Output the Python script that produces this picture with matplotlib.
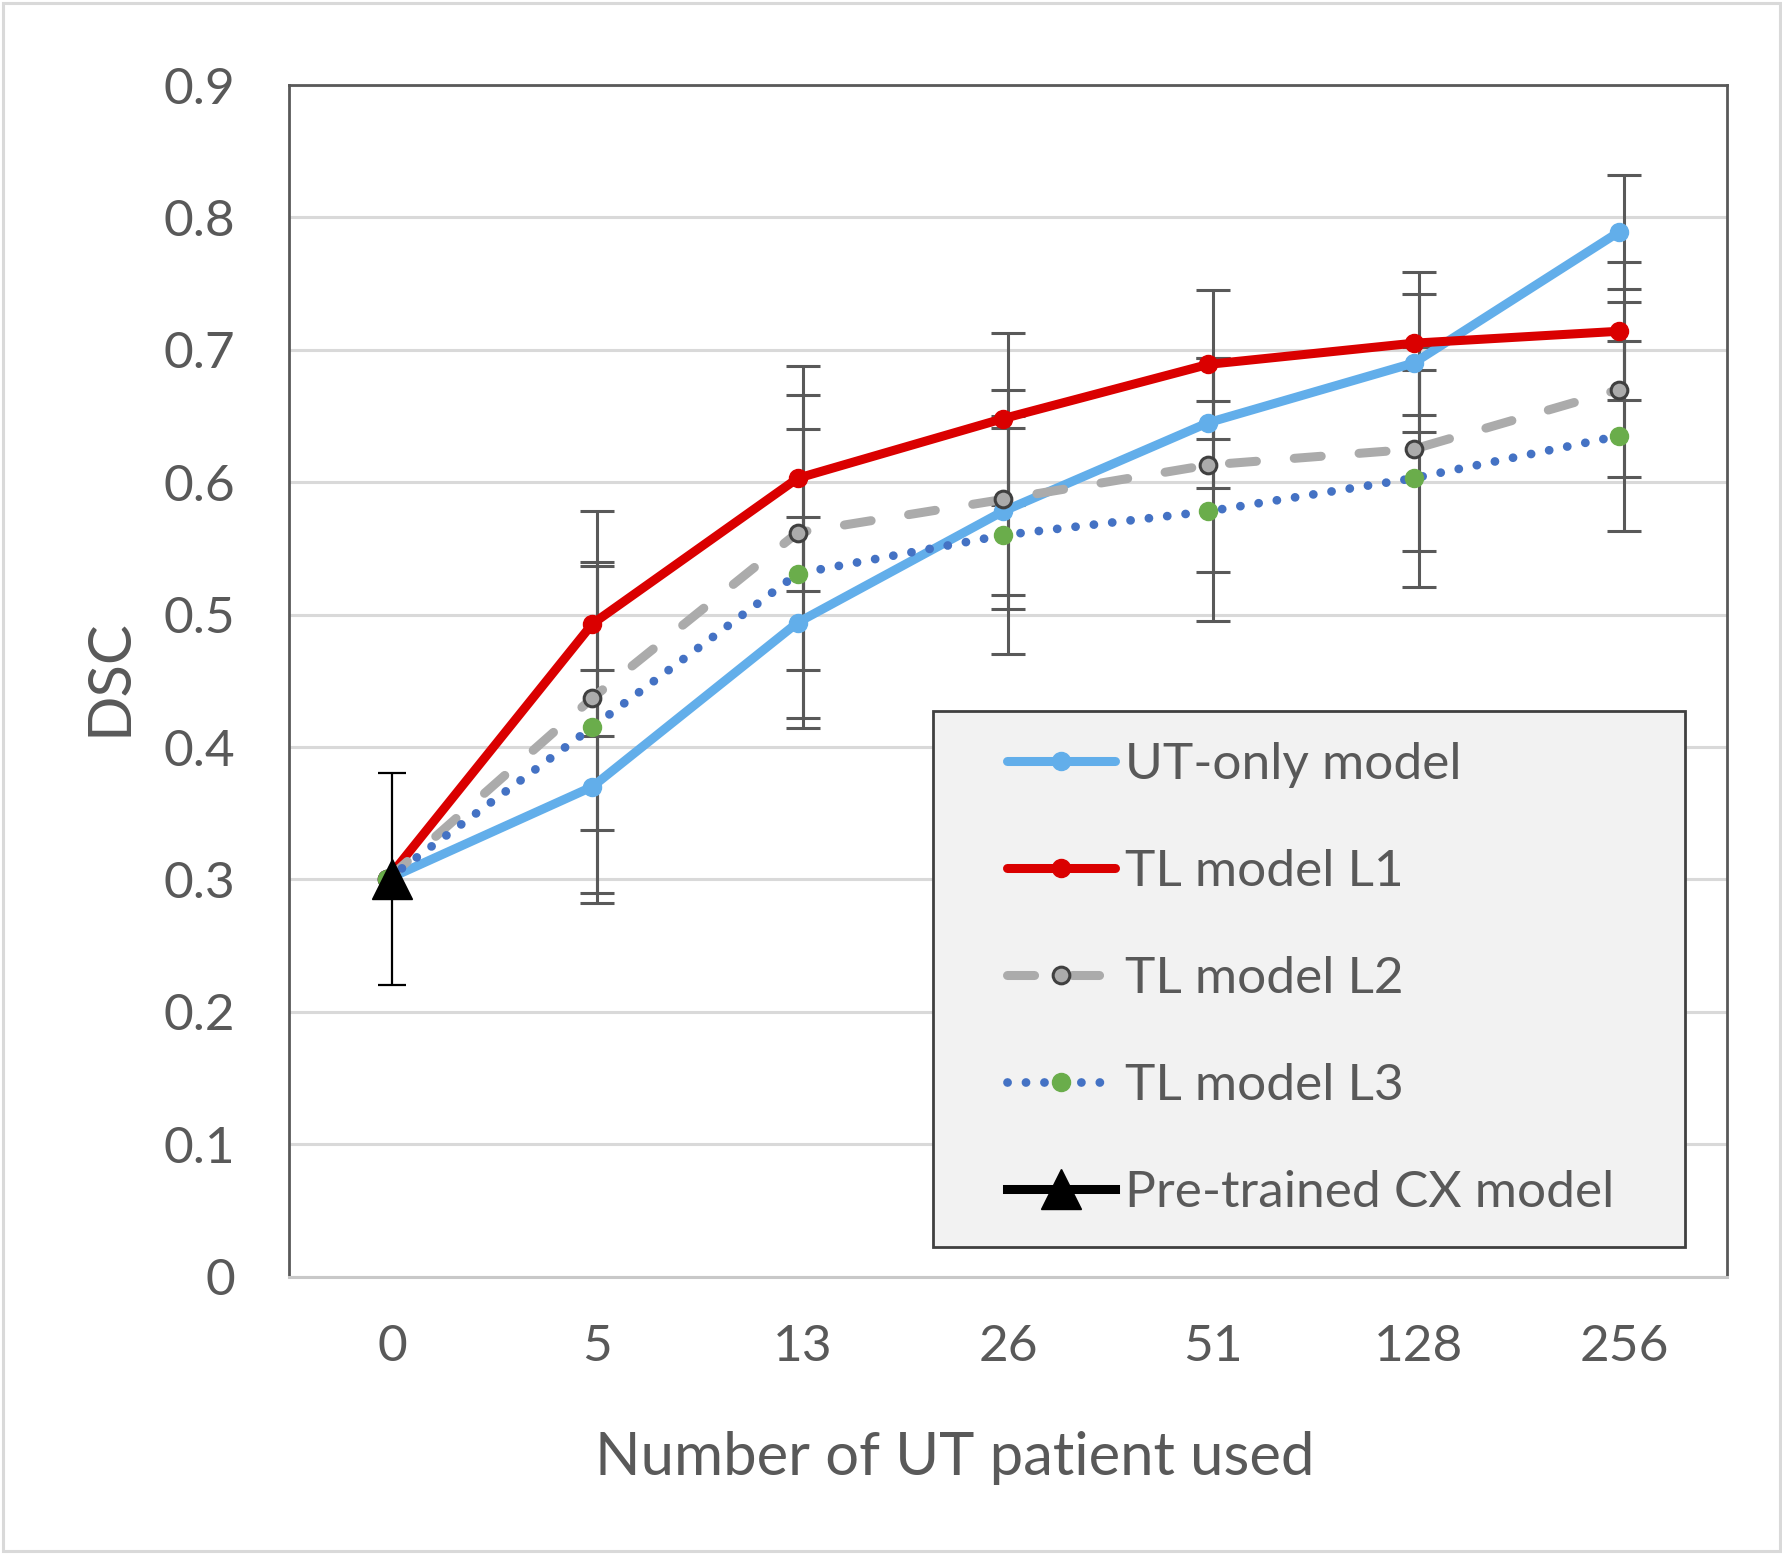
import matplotlib
matplotlib.use("Agg")
import matplotlib.pyplot as plt
import matplotlib.transforms as mtransforms
from matplotlib.patches import Rectangle

# Data
patients = ["0", "5", "13", "26", "51", "128", "256"]
ut_only = [0.300, 0.370, 0.494, 0.578, 0.645, 0.690, 0.789]
tl_l1 = [0.300, 0.493, 0.603, 0.648, 0.689, 0.705, 0.714]
tl_l2 = [0.300, 0.437, 0.562, 0.587, 0.613, 0.625, 0.670]
tl_l3 = [0.300, 0.415, 0.531, 0.560, 0.578, 0.603, 0.635]

# error bars (no bar at 0 patients for these series)
ut_only_err = [0.088, 0.080, 0.063, 0.049, 0.052, 0.043]
tl_l1_err = [0.085, 0.085, 0.065, 0.056, 0.054, 0.052]
tl_l2_err = [0.100, 0.104, 0.083, 0.081, 0.077, 0.066]
tl_l3_err = [0.125, 0.109, 0.090, 0.083, 0.082, 0.072]

pretrained = [0.300]
pretrained_err = [0.080]

y_ticks = [0, 0.1, 0.2, 0.3, 0.4, 0.5, 0.6, 0.7, 0.8, 0.9]
y_tick_labels = ["0", "0.1", "0.2", "0.3", "0.4", "0.5", "0.6", "0.7", "0.8", "0.9"]

text_color = "#595959"
grid_color = "#D9D9D9"
plt.rcParams["font.family"] = ["Lato", "DejaVu Sans"]

fig = plt.figure(figsize=(17.83, 15.54), dpi=100)
ax = fig.add_axes([0.1623, 0.1785, 0.8061, 0.7668])

x = list(range(len(patients)))
# Excel draws the series a few pixels left of the category centre
shift = mtransforms.offset_copy(ax.transData, fig=fig, x=-5, y=0, units="dots")

bar_kw = dict(fmt="none", ecolor="#595959", elinewidth=2.2, capsize=12, capthick=2.2, zorder=2)
for vals, errs in [(ut_only, ut_only_err), (tl_l1, tl_l1_err),
                   (tl_l2, tl_l2_err), (tl_l3, tl_l3_err)]:
    ax.errorbar(x[1:], vals[1:], yerr=errs, **bar_kw)

ax.errorbar(x[:1], pretrained, yerr=pretrained_err, fmt="none", ecolor="black",
            elinewidth=1.6, capsize=10, capthick=1.6, zorder=6)

h_ut, = ax.plot(x, ut_only, color="#62AEEA", lw=6.5, marker="o", ms=13,
                solid_capstyle="round", transform=shift, zorder=3, label="UT-only model")
h_l1, = ax.plot(x, tl_l1, color="#DA0000", lw=6.5, marker="o", ms=13,
                solid_capstyle="round", transform=shift, zorder=3, label="TL model L1")
h_l2, = ax.plot(x, tl_l2, color="#ABABAB", lw=6.5, marker="o", ms=12,
                mfc="#ABABAB", mec="#404040", mew=2.2,
                linestyle=(0, (3.0, 4.2)), dash_capstyle="round",
                transform=shift, zorder=3, label="TL model L2")
h_l3, = ax.plot(x, tl_l3, color="#4472C4", lw=6.3, marker="o", ms=13,
                mfc="#6AAD4B", mec="#6AAD4B",
                linestyle=(0, (0.01, 2.1)), dash_capstyle="round",
                transform=shift, zorder=3, label="TL model L3")
h_pre, = ax.plot(x[:1], pretrained, color="black", lw=6.5, marker="^", ms=29,
                 zorder=7, label="Pre-trained CX model")

ax.set_xlim(-0.5, 6.5)
ax.set_ylim(0, 0.9)
ax.set_xticks(x)
ax.set_xticklabels(patients)
ax.set_yticks(y_ticks)
ax.set_yticklabels(y_tick_labels)
ax.tick_params(axis="both", length=0, labelsize=37, colors=text_color)
ax.tick_params(axis="y", pad=39)
ax.tick_params(axis="x", pad=34)

ax.grid(axis="y", color=grid_color, lw=2.2, zorder=0)
ax.set_axisbelow(True)
for side in ["left", "top", "right"]:
    ax.spines[side].set_color(text_color)
    ax.spines[side].set_linewidth(2)
ax.spines["bottom"].set_color("#C8C8C8")
ax.spines["bottom"].set_linewidth(2.2)

fig.text(955 / 1783, 1 - 1458 / 1554, "Number of UT patient used",
         ha="center", va="center", fontsize=43, color=text_color)
fig.text(109 / 1783, 1 - 677 / 1554, "DSC", rotation=90,
         ha="center", va="center", fontsize=43, color=text_color)

# legend box drawn by hand, legend itself without frame
ax.add_patch(Rectangle((0.4478, 0.0249), 0.5232, 0.4498, transform=ax.transAxes,
                       facecolor="#F2F2F2", edgecolor="#404040", lw=2, zorder=8))
leg = ax.legend(handles=[h_ut, h_l1, h_l2, h_l3, h_pre], loc="upper left",
                bbox_to_anchor=(0.4995, 0.449), frameon=False, fontsize=37,
                borderpad=0, borderaxespad=0, handlelength=2.1,
                handletextpad=0.2, labelspacing=1.19, numpoints=1)
leg.set_zorder(9)
for t in leg.get_texts():
    t.set_color(text_color)

# light outer border of the picture
fig.patches.append(Rectangle((3 / 1783, 3 / 1554), 1 - 6 / 1783, 1 - 6 / 1554,
                             transform=fig.transFigure, fill=False,
                             edgecolor=grid_color, lw=2.2))

fig.savefig("out.png", dpi=100)
plt.close(fig)
